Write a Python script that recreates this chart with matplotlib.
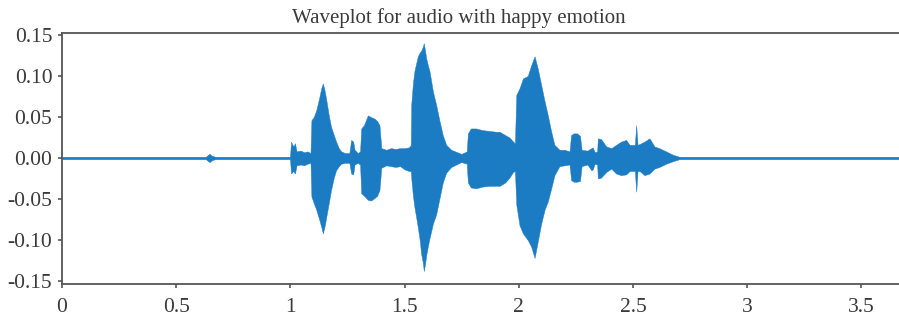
import matplotlib.pyplot as plt

# envelope of the waveform (time in s, upper / lower amplitude)
env_t = [0.000, 0.630, 0.640, 0.647, 0.655, 0.670, 0.998,
         1.003, 1.012, 1.020, 1.027, 1.045, 1.060, 1.075, 1.088,
         1.092, 1.102, 1.113, 1.125, 1.135, 1.142, 1.150, 1.157, 1.168, 1.178, 1.190, 1.200, 1.212, 1.222,
         1.240, 1.258, 1.266, 1.275, 1.281, 1.295, 1.305,
         1.310, 1.322, 1.339, 1.352, 1.368, 1.380, 1.390, 1.398,
         1.420, 1.440, 1.460, 1.480, 1.500, 1.520, 1.527,
         1.529, 1.536, 1.543, 1.551, 1.558, 1.565, 1.573, 1.580, 1.584, 1.590, 1.595, 1.603, 1.609,
         1.624, 1.638, 1.653, 1.667, 1.682, 1.704, 1.748, 1.772,
         1.777, 1.790, 1.813, 1.840, 1.870, 1.900, 1.916, 1.940, 1.959, 1.975, 1.983,
         1.989, 2.003, 2.018, 2.039, 2.054, 2.069, 2.083, 2.098, 2.113, 2.127, 2.142, 2.156, 2.178,
         2.200, 2.222, 2.229, 2.240, 2.255, 2.268, 2.275, 2.300, 2.318, 2.324, 2.332, 2.343,
         2.346, 2.360, 2.383, 2.405, 2.426, 2.448, 2.470, 2.485, 2.508, 2.514, 2.520, 2.529, 2.550,
         2.572, 2.594, 2.615, 2.645, 2.674, 2.703, 3.704]
env_upper = [0.0015, 0.0015, 0.004, 0.005, 0.003, 0.0015, 0.0015,
             0.020, 0.014, 0.018, 0.008, 0.009, 0.007, 0.008, 0.006,
             0.046, 0.050, 0.058, 0.072, 0.085, 0.091, 0.082, 0.071, 0.052, 0.038, 0.028, 0.020, 0.012, 0.008,
             0.006, 0.006, 0.022, 0.020, 0.010, 0.006, 0.008,
             0.036, 0.040, 0.052, 0.050, 0.048, 0.045, 0.040, 0.012,
             0.010, 0.012, 0.011, 0.012, 0.012, 0.013, 0.016,
             0.065, 0.090, 0.106, 0.116, 0.124, 0.128, 0.131, 0.136, 0.140, 0.130, 0.121, 0.112, 0.106,
             0.081, 0.065, 0.045, 0.028, 0.016, 0.010, 0.005, 0.008,
             0.030, 0.036, 0.036, 0.034, 0.033, 0.032, 0.032, 0.028, 0.025, 0.020, 0.018,
             0.077, 0.085, 0.097, 0.100, 0.113, 0.124, 0.109, 0.089, 0.069, 0.052, 0.032, 0.016, 0.010,
             0.010, 0.008, 0.028, 0.030, 0.030, 0.027, 0.010, 0.009, 0.012, 0.013, 0.007, 0.008,
             0.024, 0.023, 0.014, 0.012, 0.016, 0.020, 0.022, 0.016, 0.016, 0.040, 0.016, 0.017, 0.020,
             0.024, 0.014, 0.012, 0.008, 0.004, 0.0015, 0.0015]
env_lower = [-0.0015, -0.0015, -0.004, -0.005, -0.003, -0.0015, -0.0015,
             -0.019, -0.016, -0.019, -0.009, -0.008, -0.009, -0.007, -0.006,
             -0.047, -0.055, -0.063, -0.074, -0.084, -0.092, -0.083, -0.072, -0.055, -0.039, -0.024, -0.015, -0.010, -0.007,
             -0.006, -0.006, -0.019, -0.020, -0.008, -0.006, -0.008,
             -0.043, -0.046, -0.051, -0.052, -0.049, -0.046, -0.039, -0.012,
             -0.009, -0.010, -0.011, -0.010, -0.014, -0.016, -0.016,
             -0.024, -0.045, -0.060, -0.073, -0.085, -0.098, -0.118, -0.128, -0.138, -0.128, -0.118, -0.106, -0.098,
             -0.080, -0.069, -0.049, -0.030, -0.018, -0.011, -0.005, -0.007,
             -0.030, -0.036, -0.037, -0.035, -0.034, -0.034, -0.034, -0.030, -0.024, -0.017, -0.016,
             -0.057, -0.082, -0.092, -0.100, -0.108, -0.122, -0.102, -0.080, -0.063, -0.053, -0.037, -0.021, -0.010,
             -0.009, -0.008, -0.027, -0.029, -0.029, -0.028, -0.010, -0.008, -0.015, -0.014, -0.007, -0.008,
             -0.025, -0.024, -0.017, -0.013, -0.019, -0.021, -0.020, -0.016, -0.016, -0.041, -0.016, -0.016, -0.021,
             -0.019, -0.013, -0.011, -0.007, -0.004, -0.0015, -0.0015]

x_ticks = [0, 0.5, 1, 1.5, 2, 2.5, 3, 3.5]
x_tick_labels = ["0", "0.5", "1", "1.5", "2", "2.5", "3", "3.5"]
y_ticks = [-0.15, -0.10, -0.05, 0.00, 0.05, 0.10, 0.15]
y_tick_labels = ["-0.15", "-0.10", "-0.05", "0.00", "0.05", "0.10", "0.15"]

plt.rcParams['font.family'] = ['Liberation Serif', 'DejaVu Serif']
plt.rcParams['axes.unicode_minus'] = False
text_color = '#3a3a3a'
spine_color = '#555555'
wave_color = '#1b7cc3'

fig = plt.figure(figsize=(8.99, 3.21), dpi=100)
ax = fig.add_axes([62 / 899, 37 / 321, (908 - 62) / 899, 251 / 321])

ax.fill_between(env_t, env_lower, env_upper, color=wave_color, linewidth=0.3, edgecolor=wave_color)

ax.set_xlim(0, 3.704)
ax.set_ylim(-0.1537, 0.1524)
ax.set_xticks(x_ticks)
ax.set_xticklabels(x_tick_labels)
ax.set_yticks(y_ticks)
ax.set_yticklabels(y_tick_labels)
ax.tick_params(direction='out', length=3, width=1.2, colors=spine_color, labelcolor=text_color,
               labelsize=15.5)
ax.tick_params(axis='x', pad=7)
ax.tick_params(axis='y', pad=4)
for side in ['left', 'bottom', 'top', 'right']:
    ax.spines[side].set_color(spine_color)
    ax.spines[side].set_linewidth(1.3)

fig.text(459 / 899, 1 - 18 / 321, "Waveplot for audio with happy emotion", ha='center', va='center',
         fontsize=15, color=text_color)

fig.savefig("out.png", dpi=100)
